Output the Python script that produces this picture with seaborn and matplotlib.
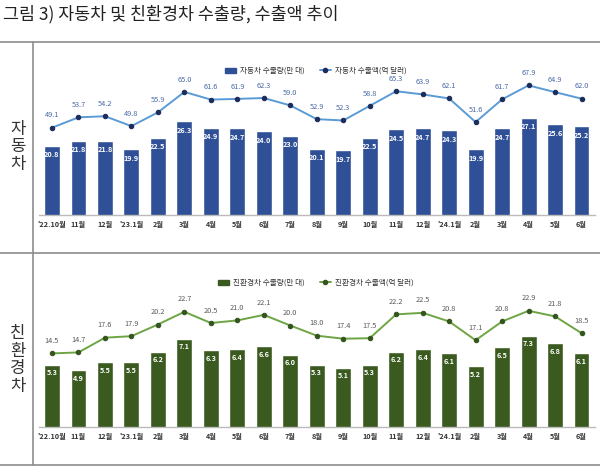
import numpy as np
import pandas as pd
import matplotlib
matplotlib.use("Agg")
import matplotlib.pyplot as plt
import seaborn as sns
from matplotlib.lines import Line2D
from matplotlib.patches import Patch

sns.set_style("white")
plt.rcParams["font.family"] = ["Noto Sans CJK KR", "DejaVu Sans"]

months = ["'22.10월", "11월", "12월", "'23.1월", "2월", "3월", "4월", "5월", "6월",
          "7월", "8월", "9월", "10월", "11월", "12월", "'24.1월", "2월", "3월",
          "4월", "5월", "6월"]

car_qty = [20.8, 21.8, 21.8, 19.9, 22.5, 26.3, 24.9, 24.7, 24.0, 23.0, 20.1,
           19.7, 22.5, 24.5, 24.7, 24.3, 19.9, 24.7, 27.1, 25.6, 25.2]
car_amt = [49.1, 53.7, 54.2, 49.8, 55.9, 65.0, 61.6, 61.9, 62.3, 59.0, 52.9,
           52.3, 58.8, 65.3, 63.9, 62.1, 51.6, 61.7, 67.9, 64.9, 62.0]

eco_qty = [5.3, 4.9, 5.5, 5.5, 6.2, 7.1, 6.3, 6.4, 6.6, 6.0, 5.3,
           5.1, 5.3, 6.2, 6.4, 6.1, 5.2, 6.5, 7.3, 6.8, 6.1]
eco_amt = [14.5, 14.7, 17.6, 17.9, 20.2, 22.7, 20.5, 21.0, 22.1, 20.0, 18.0,
           17.4, 17.5, 22.2, 22.5, 20.8, 17.1, 20.8, 22.9, 21.8, 18.5]

fig = plt.figure(figsize=(6.0, 4.68), dpi=100)

# title and frame lines
fig.text(0.005, 0.970, "그림 3) 자동차 및 친환경차 수출량, 수출액 추이",
         fontsize=12.5, color="#222222", va="center", ha="left")
line_kw = dict(color="#8c8c8c", lw=1.2, transform=fig.transFigure)
fig.add_artist(Line2D([0, 1], [1 - 42 / 468] * 2, **line_kw))
fig.add_artist(Line2D([0, 1], [1 - 253 / 468] * 2, **line_kw))
fig.add_artist(Line2D([0, 1], [1 - 465 / 468] * 2, **line_kw))
fig.add_artist(Line2D([33 / 600] * 2, [1 - 42 / 468, 1 - 465 / 468], **line_kw))

fig.text(18 / 600, 1 - 147 / 468, "자\n동\n차", fontsize=12, color="#333333",
         ha="center", va="center", linespacing=1.05)
fig.text(18 / 600, 1 - 360 / 468, "친\n환\n경\n차", fontsize=12, color="#333333",
         ha="center", va="center", linespacing=1.05)

panels = [
    dict(qty=car_qty, amt=car_amt, top=62, bottom=215, qlim=(5.0, 39.8), alim=(10.3, 78.3),
         bar="#2f4f97", line="#5b9bd5", mk="#1c2c5c", lab="#4a6aa8",
         qname="자동차 수출량(만 대)", aname="자동차 수출액(억 달러)", leg_y=71),
    dict(qty=eco_qty, amt=eco_amt, top=290, bottom=427, qlim=(1.0, 10.45), alim=(0.0, 27.0),
         bar="#3a5a1f", line="#6ea544", mk="#355520", lab="#5a5a5a",
         qname="친환경차 수출량(만 대)", aname="친환경차 수출액(억 달러)", leg_y=283),
]

x = np.arange(len(months))
for p in panels:
    rect = [38.75 / 600, 1 - p["bottom"] / 468, 556 / 600, (p["bottom"] - p["top"]) / 468]
    ax = fig.add_axes(rect)
    df = pd.DataFrame({"x": x, "qty": p["qty"], "amt": p["amt"]})
    sns.barplot(data=df, x="x", y="qty", color=p["bar"], width=0.6, ax=ax,
                saturation=1, native_scale=True)
    ax.set_xlim(-0.5, len(months) - 0.5)
    ax.set_ylim(*p["qlim"])
    for xi, v in zip(x, p["qty"]):
        ax.text(xi, v - (p["qlim"][1] - p["qlim"][0]) * 0.035, f"{v:.1f}",
                ha="center", va="top", fontsize=5.2, color="white", fontweight="semibold")
    ax.set_xticks(x)
    ax.set_xticklabels(months, fontsize=5.2, color="#333333", fontweight="semibold")
    ax.tick_params(axis="x", length=0, pad=4)
    ax.set_yticks([])
    ax.set_xlabel("")
    ax.set_ylabel("")
    for s in ["top", "left", "right"]:
        ax.spines[s].set_visible(False)
    ax.spines["bottom"].set_color("#bbbbbb")
    ax.spines["bottom"].set_linewidth(1.0)

    ax2 = ax.twinx()
    sns.lineplot(data=df, x="x", y="amt", color=p["line"], lw=1.4, ax=ax2,
                 marker="o", markersize=3.2, markerfacecolor=p["mk"],
                 markeredgecolor=p["mk"])
    ax2.set_ylim(*p["alim"])
    ax2.set_xlim(-0.5, len(months) - 0.5)
    ax2.axis("off")
    for xi, v in zip(x, p["amt"]):
        ax2.annotate(f"{v:.1f}", (xi, v), xytext=(0, 6), textcoords="offset points",
                     ha="center", va="bottom", fontsize=5.3, color=p["lab"])

    handles = [Patch(color=p["bar"], label=p["qname"]),
               Line2D([], [], color=p["line"], marker="o", markersize=3,
                      markerfacecolor=p["mk"], markeredgecolor=p["mk"], lw=1.4,
                      label=p["aname"])]
    fig.legend(handles=handles, loc="center",
               bbox_to_anchor=(316 / 600, 1 - p["leg_y"] / 468), ncol=2,
               frameon=False, fontsize=5.5, handlelength=1.4, handleheight=0.6,
               columnspacing=2.0, handletextpad=0.6,
               labelcolor="#333333")

fig.savefig("out.png", dpi=100)
